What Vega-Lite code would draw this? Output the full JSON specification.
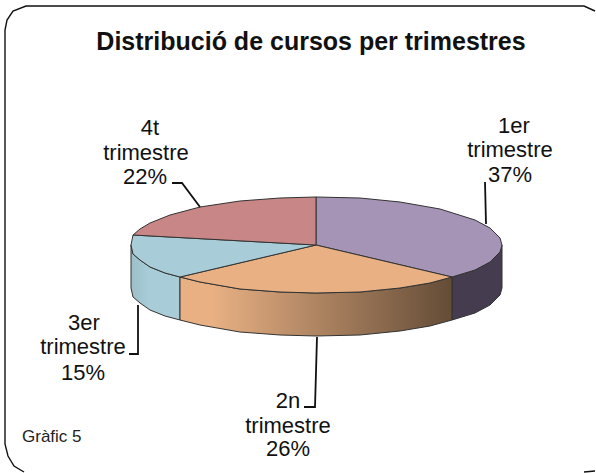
{
"$schema":"https://vega.github.io/schema/vega-lite/v6.json",
"width":596,"height":473,"padding":0,"autosize":"none",
"background":"white",
"view":{"stroke":null},
"datasets":{
"frame":[{"k":"a","x":24,"y":472,"o":0},{"k":"a","x":14,"y":466,"o":1},{"k":"a","x":8,"y":456,"o":2},{"k":"a","x":5,"y":444,"o":3},{"k":"a","x":5,"y":30,"o":4},{"k":"a","x":7,"y":20,"o":5},{"k":"a","x":13,"y":11,"o":6},{"k":"a","x":26,"y":6,"o":7},{"k":"a","x":584,"y":6,"o":8},{"k":"a","x":595,"y":11,"o":9},{"k":"b","x":584,"y":472,"o":0},{"k":"b","x":595,"y":471,"o":1}],
"purpleSide":[{"x":452,"y":277,"o":0},{"x":475,"y":270,"o":1},{"x":490,"y":262,"o":2},{"x":500,"y":252,"o":3},{"x":502,"y":245,"o":4},{"x":502,"y":288,"o":5},{"x":500,"y":295,"o":6},{"x":490,"y":305,"o":7},{"x":475,"y":313,"o":8},{"x":452,"y":320,"o":9},{"x":452,"y":277,"o":10}],
"orangeSide":[{"x":180,"y":277,"o":0},{"x":200,"y":282,"o":1},{"x":240,"y":289,"o":2},{"x":280,"y":292,"o":3},{"x":316,"y":293,"o":4},{"x":360,"y":292,"o":5},{"x":400,"y":288,"o":6},{"x":430,"y":283,"o":7},{"x":452,"y":277,"o":8},{"x":452,"y":320,"o":9},{"x":430,"y":326,"o":10},{"x":400,"y":331,"o":11},{"x":360,"y":335,"o":12},{"x":316,"y":336,"o":13},{"x":280,"y":335,"o":14},{"x":240,"y":332,"o":15},{"x":200,"y":325,"o":16},{"x":180,"y":320,"o":17},{"x":180,"y":277,"o":18}],
"blueSide":[{"x":131,"y":245,"o":0},{"x":133,"y":254,"o":1},{"x":140,"y":260,"o":2},{"x":150,"y":267,"o":3},{"x":165,"y":273,"o":4},{"x":180,"y":277,"o":5},{"x":180,"y":320,"o":6},{"x":165,"y":316,"o":7},{"x":150,"y":310,"o":8},{"x":140,"y":303,"o":9},{"x":133,"y":297,"o":10},{"x":131,"y":288,"o":11},{"x":131,"y":245,"o":12}],
"purpleTop":[{"x":316,"y":245,"o":0},{"x":316,"y":197,"o":1},{"x":360,"y":198,"o":2},{"x":400,"y":202,"o":3},{"x":440,"y":209,"o":4},{"x":475,"y":220,"o":5},{"x":490,"y":228,"o":6},{"x":500,"y":238,"o":7},{"x":502,"y":245,"o":8},{"x":500,"y":252,"o":9},{"x":490,"y":262,"o":10},{"x":475,"y":270,"o":11},{"x":452,"y":277,"o":12},{"x":316,"y":245,"o":13}],
"orangeTop":[{"x":316,"y":245,"o":0},{"x":452,"y":277,"o":1},{"x":430,"y":283,"o":2},{"x":400,"y":288,"o":3},{"x":360,"y":292,"o":4},{"x":316,"y":293,"o":5},{"x":280,"y":292,"o":6},{"x":240,"y":289,"o":7},{"x":200,"y":282,"o":8},{"x":180,"y":277,"o":9},{"x":316,"y":245,"o":10}],
"blueTop":[{"x":316,"y":245,"o":0},{"x":180,"y":277,"o":1},{"x":165,"y":273,"o":2},{"x":150,"y":267,"o":3},{"x":140,"y":260,"o":4},{"x":133,"y":254,"o":5},{"x":131,"y":245,"o":6},{"x":133,"y":235,"o":7},{"x":316,"y":245,"o":8}],
"redTop":[{"x":316,"y":245,"o":0},{"x":133,"y":235,"o":1},{"x":140,"y":229,"o":2},{"x":150,"y":223,"o":3},{"x":170,"y":215,"o":4},{"x":200,"y":207,"o":5},{"x":240,"y":201,"o":6},{"x":280,"y":198,"o":7},{"x":316,"y":197,"o":8},{"x":316,"y":245,"o":9}],
"leaders":[
{"k":"1er","o":0,"x":485,"y":182},{"k":"1er","o":1,"x":486,"y":224},
{"k":"2n","o":0,"x":317,"y":337},{"k":"2n","o":1,"x":315,"y":407},{"k":"2n","o":2,"x":304,"y":407},
{"k":"3er","o":0,"x":138,"y":305},{"k":"3er","o":1,"x":138,"y":354},{"k":"3er","o":2,"x":129,"y":354},
{"k":"4t","o":0,"x":172,"y":183},{"k":"4t","o":1,"x":182,"y":183},{"k":"4t","o":2,"x":200,"y":207}],
"labels":[
{"t":"1er","x":514,"y":126},{"t":"trimestre","x":510,"y":150},{"t":"37%","x":510,"y":175},
{"t":"2n","x":288,"y":401},{"t":"trimestre","x":288,"y":426},{"t":"26%","x":288,"y":449},
{"t":"3er","x":84,"y":323},{"t":"trimestre","x":83,"y":347},{"t":"15%","x":83,"y":373},
{"t":"4t","x":150,"y":128},{"t":"trimestre","x":146,"y":153},{"t":"22%","x":145,"y":177}],
"cover":[{"x":255,"x2":325,"y":456,"y2":468}],
"title":[{"t":"Distribució de cursos per trimestres","x":311,"y":42}],
"note":[{"t":"Gràfic 5","x":22,"y":437}]
},
"encoding":{
"x":{"field":"x","type":"quantitative","scale":{"domain":[0,596]},"axis":null},
"y":{"field":"y","type":"quantitative","scale":{"domain":[473,0]},"axis":null}
},
"layer":[
{"data":{"name":"frame"},"mark":{"type":"line","stroke":"#111","strokeWidth":1.4},"encoding":{"detail":{"field":"k"},"order":{"field":"o"}}},
{"data":{"name":"purpleSide"},"mark":{"type":"line","fill":"#453D4F","stroke":"#333","strokeWidth":1},"encoding":{"order":{"field":"o"}}},
{"data":{"name":"blueSide"},"mark":{"type":"line","fill":{"gradient":"linear","x1":0,"y1":0,"x2":1,"y2":0,"stops":[{"offset":0,"color":"#9CBEC8"},{"offset":0.35,"color":"#A8CDD8"},{"offset":1,"color":"#A8CDD8"}]},"stroke":"#333","strokeWidth":1},"encoding":{"order":{"field":"o"}}},
{"data":{"name":"orangeSide"},"mark":{"type":"line","fill":{"gradient":"linear","x1":0,"y1":0,"x2":1,"y2":0,"stops":[{"offset":0,"color":"#E8B083"},{"offset":0.12,"color":"#E8B083"},{"offset":1,"color":"#644C37"}]},"stroke":"#333","strokeWidth":1},"encoding":{"order":{"field":"o"}}},
{"data":{"name":"purpleTop"},"mark":{"type":"line","fill":"#A594B6","stroke":"#333","strokeWidth":1},"encoding":{"order":{"field":"o"}}},
{"data":{"name":"orangeTop"},"mark":{"type":"line","fill":"#E8B083","stroke":"#333","strokeWidth":1},"encoding":{"order":{"field":"o"}}},
{"data":{"name":"blueTop"},"mark":{"type":"line","fill":"#A8CDD8","stroke":"#333","strokeWidth":1},"encoding":{"order":{"field":"o"}}},
{"data":{"name":"redTop"},"mark":{"type":"line","fill":"#C98686","stroke":"#333","strokeWidth":1},"encoding":{"order":{"field":"o"}}},
{"data":{"name":"leaders"},"mark":{"type":"line","stroke":"#111","strokeWidth":1.8},"encoding":{"detail":{"field":"k"},"order":{"field":"o"}}},
{"data":{"name":"labels"},"mark":{"type":"text","font":"Liberation Sans","fontSize":22,"fill":"#111","align":"center","baseline":"middle"},"encoding":{"text":{"field":"t"}}},
{"data":{"name":"cover"},"mark":{"type":"rect","fill":"white"},"encoding":{"x2":{"field":"x2"},"y2":{"field":"y2"}}},
{"data":{"name":"title"},"mark":{"type":"text","font":"Liberation Sans","fontSize":25,"fontWeight":"bold","fill":"#111","align":"center","baseline":"middle"},"encoding":{"text":{"field":"t"}}},
{"data":{"name":"note"},"mark":{"type":"text","font":"Liberation Sans","fontSize":17,"fill":"#222","align":"left","baseline":"middle"},"encoding":{"text":{"field":"t"}}}
]
}
